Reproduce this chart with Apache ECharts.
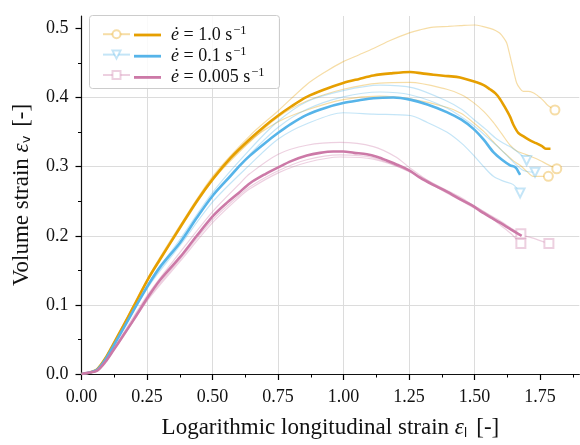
<!DOCTYPE html>
<html>
<head>
<meta charset="utf-8">
<script src="https://cdn.jsdelivr.net/npm/echarts@6/dist/echarts.min.js"></script>
<style>
  html, body { margin: 0; padding: 0; background: #fff; }
  #chart { width: 580px; height: 445px; }
</style>
</head>
<body>
<div id="chart"></div>
<script>
// Strain rates (legend labels) and colours
const rates = ['1.0', '0.1', '0.005'];
const colors = ['#E69F00', '#56B4E9', '#CC79A7'];
const endSymbols = ['emptyCircle', 'emptyTriangle', 'emptyRect'];
const endRotate = [0, 180, 0];

// Axis ticks
const xMajorTicks = [0, 0.25, 0.5, 0.75, 1.0, 1.25, 1.5, 1.75];
const xMinorTicks = [0.125, 0.375, 0.625, 0.875, 1.125, 1.375, 1.625, 1.875];
const yMajorTicks = [0, 0.1, 0.2, 0.3, 0.4, 0.5];
const yMinorTicks = [0.05, 0.15, 0.25, 0.35, 0.45];

// Mean curves [longitudinal strain, volume strain]
const mean_1_0 = [[0,0],[0.03,0.002],[0.06,0.007],[0.09,0.022],[0.121,0.043],[0.16,0.070],[0.198,0.097],[0.255,0.138],[0.3,0.166],[0.376,0.212],[0.44,0.25],[0.503,0.283],[0.57,0.313],[0.643,0.340],[0.70,0.359],[0.751,0.374],[0.80,0.387],[0.86,0.401],[0.93,0.412],[0.999,0.421],[1.06,0.427],[1.114,0.432],[1.18,0.435],[1.254,0.437],[1.30,0.435],[1.343,0.433],[1.40,0.431],[1.445,0.429],[1.508,0.422],[1.535,0.418],[1.559,0.412],[1.58,0.406],[1.597,0.398],[1.616,0.386],[1.636,0.372],[1.648,0.361],[1.667,0.349],[1.69,0.343],[1.712,0.338],[1.735,0.334],[1.756,0.330],[1.772,0.326],[1.79,0.326]];
const mean_0_1 = [[0,0],[0.03,0.002],[0.06,0.006],[0.09,0.020],[0.121,0.040],[0.16,0.066],[0.2,0.093],[0.255,0.129],[0.3,0.155],[0.376,0.19],[0.44,0.226],[0.503,0.259],[0.57,0.287],[0.605,0.302],[0.643,0.316],[0.70,0.334],[0.751,0.349],[0.80,0.362],[0.86,0.375],[0.93,0.385],[0.999,0.392],[1.06,0.396],[1.114,0.399],[1.19,0.400],[1.254,0.397],[1.32,0.39],[1.394,0.379],[1.45,0.368],[1.495,0.355],[1.535,0.339],[1.572,0.321],[1.605,0.31],[1.636,0.302],[1.652,0.300],[1.661,0.297],[1.668,0.292],[1.674,0.288]];
const mean_0_005 = [[0,0],[0.03,0.002],[0.06,0.005],[0.09,0.017],[0.121,0.034],[0.16,0.056],[0.2,0.079],[0.255,0.112],[0.3,0.136],[0.376,0.169],[0.44,0.2],[0.503,0.229],[0.55,0.246],[0.60,0.262],[0.643,0.276],[0.70,0.289],[0.751,0.299],[0.80,0.308],[0.86,0.316],[0.91,0.320],[0.961,0.322],[0.999,0.322],[1.04,0.320],[1.089,0.318],[1.13,0.314],[1.165,0.309],[1.21,0.302],[1.254,0.294],[1.292,0.284],[1.34,0.274],[1.394,0.264],[1.45,0.252],[1.495,0.243],[1.521,0.236],[1.56,0.227],[1.597,0.219],[1.64,0.209],[1.68,0.200]];

// Individual specimens, 1.0 s^-1
const spec_1_0_a = [[0,0],[0.06,0.007],[0.121,0.044],[0.255,0.140],[0.376,0.215],[0.503,0.287],[0.643,0.345],[0.751,0.381],[0.86,0.419],[0.93,0.437],[0.999,0.452],[1.06,0.462],[1.114,0.471],[1.18,0.483],[1.254,0.494],[1.292,0.498],[1.343,0.502],[1.40,0.503],[1.445,0.504],[1.502,0.505],[1.53,0.503],[1.559,0.500],[1.58,0.497],[1.597,0.493],[1.612,0.486],[1.623,0.479],[1.632,0.466],[1.642,0.45],[1.652,0.434],[1.661,0.421],[1.672,0.414],[1.686,0.409],[1.705,0.409],[1.724,0.407],[1.74,0.403],[1.75,0.400],[1.762,0.396],[1.776,0.390],[1.79,0.386],[1.807,0.382]];
const spec_1_0_b = [[0,0],[0.06,0.007],[0.121,0.043],[0.255,0.137],[0.376,0.21],[0.503,0.281],[0.643,0.336],[0.751,0.372],[0.86,0.395],[0.999,0.412],[1.139,0.421],[1.254,0.422],[1.394,0.412],[1.45,0.404],[1.495,0.393],[1.535,0.38],[1.572,0.364],[1.605,0.347],[1.636,0.331],[1.66,0.323],[1.686,0.319],[1.72,0.314],[1.75,0.309],[1.78,0.303],[1.814,0.297]];
const spec_1_0_c = [[0,0],[0.06,0.007],[0.121,0.043],[0.255,0.138],[0.376,0.212],[0.503,0.282],[0.643,0.337],[0.751,0.365],[0.86,0.382],[0.999,0.397],[1.139,0.402],[1.254,0.398],[1.394,0.386],[1.45,0.377],[1.495,0.364],[1.535,0.351],[1.572,0.336],[1.60,0.325],[1.623,0.317],[1.65,0.308],[1.674,0.302],[1.70,0.293],[1.724,0.286],[1.75,0.286],[1.782,0.286]];

// Individual specimens, 0.1 s^-1
const spec_0_1_a = [[0,0],[0.06,0.006],[0.121,0.041],[0.255,0.131],[0.376,0.195],[0.503,0.264],[0.643,0.325],[0.751,0.366],[0.86,0.394],[0.999,0.410],[1.139,0.418],[1.266,0.414],[1.394,0.395],[1.45,0.383],[1.495,0.369],[1.54,0.355],[1.585,0.34],[1.62,0.332],[1.648,0.326],[1.675,0.318],[1.699,0.309]];
const spec_0_1_b = [[0,0],[0.06,0.006],[0.121,0.040],[0.255,0.128],[0.376,0.19],[0.503,0.26],[0.643,0.318],[0.751,0.357],[0.86,0.383],[0.999,0.401],[1.139,0.408],[1.254,0.404],[1.394,0.385],[1.495,0.36],[1.55,0.342],[1.6,0.325],[1.65,0.306],[1.68,0.296],[1.70,0.293],[1.731,0.292]];
const spec_0_1_c = [[0,0],[0.06,0.006],[0.121,0.039],[0.255,0.126],[0.376,0.186],[0.503,0.25],[0.643,0.303],[0.751,0.34],[0.86,0.362],[0.999,0.378],[1.114,0.376],[1.254,0.374],[1.32,0.364],[1.394,0.35],[1.45,0.334],[1.495,0.317],[1.535,0.30],[1.572,0.286],[1.61,0.279],[1.648,0.274],[1.674,0.262]];

// Individual specimens, 0.005 s^-1
const spec_0_005_a = [[0,0],[0.06,0.005],[0.121,0.036],[0.255,0.116],[0.376,0.176],[0.503,0.236],[0.60,0.274],[0.643,0.290],[0.751,0.318],[0.86,0.331],[0.987,0.335],[1.114,0.329],[1.2,0.314],[1.254,0.298],[1.33,0.278],[1.394,0.266],[1.45,0.255],[1.5,0.243],[1.55,0.232],[1.6,0.221],[1.64,0.211],[1.677,0.203]];
const spec_0_005_b = [[0,0],[0.06,0.005],[0.121,0.034],[0.255,0.110],[0.376,0.166],[0.503,0.224],[0.60,0.258],[0.643,0.271],[0.751,0.294],[0.86,0.310],[0.987,0.317],[1.114,0.313],[1.254,0.292],[1.394,0.262],[1.5,0.24],[1.56,0.227],[1.6,0.215],[1.64,0.203],[1.66,0.195],[1.677,0.189]];
const spec_0_005_c = [[0,0],[0.06,0.005],[0.121,0.033],[0.255,0.108],[0.376,0.163],[0.503,0.220],[0.60,0.255],[0.643,0.268],[0.751,0.291],[0.86,0.306],[0.987,0.314],[1.114,0.311],[1.254,0.293],[1.394,0.265],[1.5,0.243],[1.6,0.219],[1.65,0.206],[1.68,0.201],[1.72,0.197],[1.75,0.193],[1.784,0.189]];

const means = [mean_1_0, mean_0_1, mean_0_005];
const specimens = [
  [spec_1_0_a, spec_1_0_b, spec_1_0_c],
  [spec_0_1_a, spec_0_1_b, spec_0_1_c],
  [spec_0_005_a, spec_0_005_b, spec_0_005_c]
];

const SERIF = 'Liberation Serif';
const faintAlpha = 0.35;

function faint(hex) {
  const n = parseInt(hex.slice(1), 16);
  return `rgba(${n >> 16},${(n >> 8) & 255},${n & 255},${faintAlpha})`;
}

const series = [];
specimens.forEach((group, r) => {
  group.forEach((curve) => {
    const last = curve.length - 1;
    series.push({
      name: 'spec ' + rates[r],
      type: 'line',
      xAxisIndex: 0, yAxisIndex: 0,
      data: curve.map((p, i) => i === last ? { value: p } : { value: p, symbol: 'none' }),
      symbol: endSymbols[r],
      symbolRotate: endRotate[r],
      symbolSize: 9,
      showSymbol: true,
      showAllSymbol: true,
      smooth: 0.3,
      lineStyle: { color: faint(colors[r]), width: 1.2 },
      itemStyle: { color: faint(colors[r]), borderColor: faint(colors[r]), borderWidth: 1.5 },
      emphasis: { disabled: true },
      silent: true,
      z: 2,
      animation: false
    });
  });
});
means.forEach((curve, r) => {
  series.push({
    name: 'mean ' + rates[r],
    type: 'line',
    xAxisIndex: 0, yAxisIndex: 0,
    data: curve,
    symbol: 'none',
    smooth: 0.3,
    lineStyle: { color: colors[r], width: 2.6 },
    itemStyle: { color: colors[r] },
    emphasis: { disabled: true },
    silent: true,
    z: 3,
    animation: false
  });
});

const tickColor = '#000';
const grid = { left: 81.5, right: 0.7, top: 16, bottom: 66.7 };

const titleStyle = {
  fontFamily: SERIF, fontSize: 23, color: '#111',
  rich: {
    e: { fontFamily: SERIF, fontStyle: 'italic', fontSize: 23, color: '#111' },
    s: { fontFamily: 'DejaVu Sans', fontSize: 13, color: '#111', padding: [11, 3, 0, 0] }
  }
};

const option = {
  animation: false,
  grid: grid,
  textStyle: { fontFamily: SERIF },
  xAxis: [
    {
      type: 'value', min: 0, max: 1.9, interval: 0.25,
      axisLine: { show: true, lineStyle: { color: '#111', width: 1.2 } },
      axisTick: { show: true, customValues: xMajorTicks, length: 6, lineStyle: { color: tickColor, width: 1.2 } },
      axisLabel: { customValues: xMajorTicks, formatter: v => v.toFixed(2), fontFamily: SERIF, fontSize: 18, color: '#111', margin: 14 },
      splitLine: { show: true, showMaxLine: false, lineStyle: { color: '#dcdcdc', width: 1 } },
      name: 'Logarithmic longitudinal strain {e|ε}{s|l} [-]',
      nameLocation: 'middle', nameGap: 42,
      nameTextStyle: titleStyle
    },
    {
      type: 'value', min: 0, max: 1.9, position: 'bottom',
      axisLine: { show: false },
      axisTick: { show: true, customValues: xMinorTicks, length: 3.5, lineStyle: { color: tickColor, width: 1 } },
      axisLabel: { show: false },
      splitLine: { show: false }
    }
  ],
  yAxis: [
    {
      type: 'value', min: 0, max: 0.518, interval: 0.1,
      axisLine: { show: true, lineStyle: { color: '#111', width: 1.2 } },
      axisTick: { show: true, customValues: yMajorTicks, length: 6, lineStyle: { color: tickColor, width: 1.2 } },
      axisLabel: { customValues: yMajorTicks, formatter: v => v.toFixed(1), fontFamily: SERIF, fontSize: 18, color: '#111', margin: 13 },
      splitLine: { show: true, showMaxLine: false, lineStyle: { color: '#dcdcdc', width: 1 } },
      name: 'Volume strain {e|ε}{s|v} [-]',
      nameLocation: 'middle', nameGap: 48, nameRotate: 90,
      nameTextStyle: titleStyle
    },
    {
      type: 'value', min: 0, max: 0.518, position: 'left',
      axisLine: { show: false },
      axisTick: { show: true, customValues: yMinorTicks, length: 3.5, lineStyle: { color: tickColor, width: 1 } },
      axisLabel: { show: false },
      splitLine: { show: false }
    }
  ],
  legend: [
    {
      data: rates.map(r => 'spec ' + r),
      orient: 'vertical', left: 97, top: 19,
      itemWidth: 27, itemHeight: 10, itemGap: 0,
      formatter: () => ' ',
      textStyle: { fontSize: 14, lineHeight: 20.4 },
      selectedMode: false, z: 5
    },
    {
      data: rates.map((r, i) => ({ name: 'mean ' + r, icon: 'rect', itemStyle: { color: colors[i] } })),
      orient: 'vertical', left: 129, top: 19,
      itemWidth: 27, itemHeight: 2.8, itemGap: 0,
      formatter: name => {
        const r = name.replace('mean ', '');
        return '{i|ė} = ' + r + ' s{sup|−1}';
      },
      textStyle: {
        fontFamily: SERIF, fontSize: 18, color: '#111', lineHeight: 20.4,
        rich: {
          i: { fontFamily: SERIF, fontStyle: 'italic', fontSize: 18, color: '#111', padding: [0, 0, 0, 5] },
          sup: { fontFamily: SERIF, fontSize: 12.5, color: '#111', padding: [0, 0, 9, 1] }
        }
      },
      selectedMode: false, z: 5
    }
  ],
  graphic: [
    {
      type: 'rect', left: 89, top: 15, z: 4,
      shape: { width: 190, height: 73, r: 3 },
      style: { fill: 'rgba(255,255,255,0.85)', stroke: '#cccccc', lineWidth: 1 }
    }
  ],
  series: series
};

const chart = echarts.init(document.getElementById('chart'), null, { renderer: 'canvas' });
chart.setOption(option);
</script>
</body>
</html>
